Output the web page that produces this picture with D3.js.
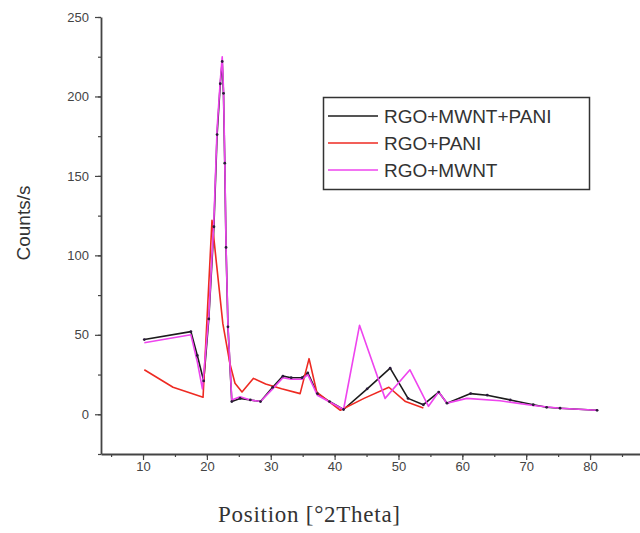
<!DOCTYPE html>
<html>
<head>
<meta charset="utf-8">
<script src="https://cdn.jsdelivr.net/npm/d3@7"></script>
<style>
  body { margin: 0; background: #fff; }
  svg { display: block; }
</style>
</head>
<body>
<script>
// series: position (°2Theta) and counts/s
let mixX = [10.2, 17.5, 18.5, 19.5, 20.3, 21.1, 21.6, 22.1, 22.4, 22.6, 22.8, 23.0, 23.3, 23.9, 25.2, 26.8, 28.4, 30.3, 31.9, 33.2, 34.9, 35.8, 37.3, 39.2, 41.4, 45.1, 48.7, 51.5, 53.9, 56.3, 57.6, 61.3, 63.9, 67.5, 71.1, 73.2, 75.3, 81.1];
let mixY = [47, 52, 37, 21, 60, 118, 176, 208, 222, 202, 158, 105, 55, 8, 10, 9, 8, 17, 24, 23, 23, 26, 13, 8, 3, 16, 29, 10, 6, 14, 7, 13, 12, 9, 6, 4.4, 3.8, 2.5];

let paniX = [10.2, 14.7, 19.4, 20.8, 21.5, 22.5, 23.6, 24.4, 25.5, 27.3, 29.2, 31.7, 34.6, 36.0, 37.2, 40.9, 44.6, 48.5, 51.1, 53.9];
let paniY = [28, 17, 10.7, 122, 95, 57, 32, 19.5, 14, 22.6, 19, 16, 13, 35, 14, 2.5, 10, 17, 8, 4];

let mwntX = [10.2, 17.5, 18.5, 19.3, 20.3, 21.1, 21.6, 22.1, 22.4, 22.6, 22.8, 23.0, 23.3, 23.9, 25.2, 26.8, 28.4, 30.3, 31.9, 33.2, 34.9, 35.8, 37.3, 41.4, 43.9, 47.9, 51.8, 54.7, 56.3, 57.6, 60.7, 65.9, 71.1, 75.3, 81.1];
let mwntY = [45, 50, 33, 16, 62, 122, 180, 210, 225, 205, 160, 106, 56, 9, 11, 9, 8, 16, 23, 22, 22, 25, 12, 3, 56, 10, 28, 5, 14, 7, 10, 8.5, 5.5, 3.8, 2.5];

let seriesNames = ["RGO+MWNT+PANI", "RGO+PANI", "RGO+MWNT"];
let seriesColors = ["#1c1c1c", "#ee2a22", "#ee44ee"];

let xTicks = [10, 20, 30, 40, 50, 60, 70, 80];
let yTicks = [0, 50, 100, 150, 200, 250];

let width = 640, height = 533;

let svg = d3.select("body").append("svg")
	.attr("width", width)
	.attr("height", height)
	.style("font-family", "'Liberation Sans', Arial, sans-serif");

// scales: 10 -> 143px, 80 -> 590px ; -25 -> 454px, 250 -> 17px
let xScale = d3.scaleLinear().domain([3.42, 87.82]).range([101, 640]);
let yScale = d3.scaleLinear().domain([-25, 250]).range([454, 17]);

let zip = function(xs, ys) { return xs.map(function(x, i) { return {x: x, y: ys[i]}; }); };
let allSeries = [zip(mixX, mixY), zip(paniX, paniY), zip(mwntX, mwntY)];

let line = d3.line()
	.x(function(d) { return xScale(d.x); })
	.y(function(d) { return yScale(d.y); });

// lines, black first so magenta sits on top like the original
svg.selectAll(".series")
		.data(allSeries)
	.enter().append("path")
		.attr("class", "series")
		.attr("d", line)
		.attr("fill", "none")
		.attr("stroke", function(d, i) { return seriesColors[i]; })
		.attr("stroke-width", 1.6)
		.attr("stroke-linejoin", "round");

// small dark symbols on the black series
svg.selectAll(".dot")
		.data(allSeries[0])
	.enter().append("circle")
		.attr("class", "dot")
		.attr("r", 1.4)
		.attr("cx", function(d) { return xScale(d.x); })
		.attr("cy", function(d) { return yScale(d.y); })
		.attr("fill", "#2a1a3a");

// y axis with minor ticks
svg.append("g")
	.attr("transform", "translate(101,0)")
	.call(d3.axisLeft(yScale).tickValues(d3.range(-25, 251, 25)).tickSize(3).tickFormat(""))
	.call(function(g) { g.select(".domain").remove(); })
	.selectAll("line").attr("stroke", "#444").attr("stroke-width", 1.2);

let yAxis = svg.append("g")
	.attr("transform", "translate(101,0)")
	.call(d3.axisLeft(yScale).tickValues(yTicks).tickSize(6).tickPadding(6).tickSizeOuter(0));
yAxis.select(".domain").attr("stroke", "#444").attr("stroke-width", 1.8);
yAxis.selectAll("line").attr("stroke", "#444").attr("stroke-width", 1.2);
yAxis.selectAll("text")
	.attr("fill", "#444")
	.style("font-size", "13px")
	.style("font-family", "'Liberation Sans', Arial, sans-serif");

// x axis with minor ticks
svg.append("g")
	.attr("transform", "translate(0,454)")
	.call(d3.axisBottom(xScale).tickValues(d3.range(5, 90, 5)).tickSize(3).tickFormat(""))
	.call(function(g) { g.select(".domain").remove(); })
	.selectAll("line").attr("stroke", "#444").attr("stroke-width", 1.2);

let xAxis = svg.append("g")
	.attr("transform", "translate(0,454)")
	.call(d3.axisBottom(xScale).tickValues(xTicks).tickSize(6).tickPadding(2).tickSizeOuter(0));
xAxis.select(".domain").attr("stroke", "#444").attr("stroke-width", 1.8);
xAxis.selectAll("line").attr("stroke", "#444").attr("stroke-width", 1.2);
xAxis.selectAll("text")
	.attr("fill", "#444")
	.style("font-size", "13px")
	.style("font-family", "'Liberation Sans', Arial, sans-serif");

// axis titles
svg.append("text")
	.attr("transform", "translate(30,223) rotate(-90)")
	.attr("text-anchor", "middle")
	.attr("fill", "#333")
	.style("font-size", "19px")
	.text("Counts/s");

svg.append("text")
	.attr("x", 309)
	.attr("y", 522)
	.attr("text-anchor", "middle")
	.attr("textLength", 182)
	.attr("fill", "#333")
	.style("font-family", "'Liberation Serif', 'Times New Roman', serif")
	.style("font-size", "23px")
	.text("Position [°2Theta]");

// legend
let legend = svg.append("g");
legend.append("rect")
	.attr("x", 323.5).attr("y", 97.5)
	.attr("width", 266).attr("height", 92)
	.attr("fill", "#fff")
	.attr("stroke", "#333")
	.attr("stroke-width", 1.5);

let rowY = [116, 143, 170];
seriesNames.forEach(function(name, i) {
	legend.append("line")
		.attr("x1", 328).attr("x2", 378)
		.attr("y1", rowY[i]).attr("y2", rowY[i])
		.attr("stroke", seriesColors[i])
		.attr("stroke-width", 1.6);
	legend.append("text")
		.attr("x", 384)
		.attr("y", rowY[i] + 7)
		.attr("fill", "#333")
		.style("font-size", "19px")
		.text(name);
});
</script>
</body>
</html>
